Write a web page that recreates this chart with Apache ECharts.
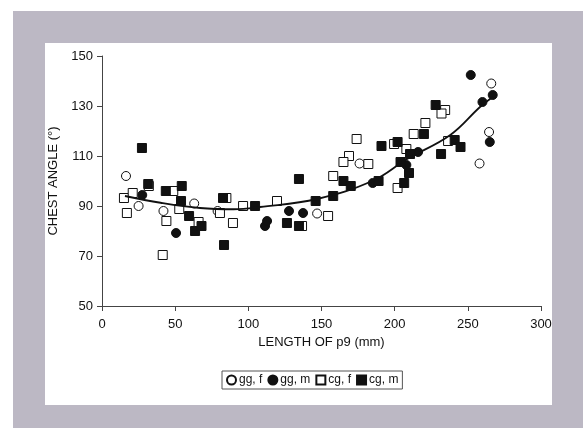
<!DOCTYPE html>
<html>
<head>
<meta charset="utf-8">
<script src="https://cdn.jsdelivr.net/npm/echarts@6/dist/echarts.min.js"></script>
<style>
  html, body { margin: 0; padding: 0; background: #fff; }
  #main { width: 583px; height: 428px; }
</style>
</head>
<body>
<div id="main"></div>
<script>
// x = length of p9 (mm), y = chest angle (deg)
var ggF = [[16.4,102],[25,90],[42,88],[63,91],[79,88],[147,87],[176,107],[258,107],[264.5,119.6],[266,139]];
var ggM = [[27.5,94.4],[50.6,79.2],[111.4,82],[112.8,84],[127.8,88],[137.4,87.2],[185,99.2],[208,106.4],[216,111.6],[252,142.4],[260,131.6],[267,134.4],[265,115.6]];
var cgF = [[15,93.2],[21,95.2],[17,87.2],[32,98],[44,84],[41.5,70.4],[48.7,96],[52.8,88.8],[66,83.6],[85,93.2],[80.6,87.2],[89.5,83.2],[96.4,90],[119.6,92],[136.7,82],[154.5,86],[158,102],[174,116.8],[168.8,110],[165,107.6],[182,106.8],[199.6,114.8],[208,112.8],[213,118.8],[221,123.2],[202,97.2],[234.5,128.4],[232,127],[236.5,116]];
var cgM = [[27.3,113.2],[31.6,98.8],[43.6,96],[54.5,98],[54,92],[59.5,86],[63.6,80],[68,82],[82.7,93.2],[83.4,74.4],[104.6,90],[134.6,100.8],[126.4,83.2],[134.6,82],[146,92],[158,94],[165,100],[170,98],[189,100],[191,114],[202,115.6],[204,107.6],[210.5,110.8],[209.8,103.2],[206.5,99.2],[220,118.8],[231.7,110.8],[228,130.4],[241,116.4],[245,113.6]];
// trend curve
var trend = [[15.7,94],[40,91.3],[67,89.2],[90,88.7],[108,89.6],[147,92.8],[185,100.1],[208.5,108.8],[238,118.4],[258.5,129.7],[267,133.6]];
var xTicks = [0, 50, 100, 150, 200, 250, 300];
var yTicks = [50, 70, 90, 110, 130, 150];

var myChart = echarts.init(document.getElementById('main'));
var font = 'Liberation Sans, Arial, sans-serif';

function scatter(name, data, symbol, open) {
  return {
    name: name,
    type: 'scatter',
    data: data,
    symbol: symbol,
    symbolSize: 9,
    itemStyle: {
      color: open ? '#fff' : '#111',
      borderColor: '#111',
      borderWidth: 1,
      opacity: 1
    },
    z: 3
  };
}

var option = {
  animation: false,
  backgroundColor: '#fff',
  graphic: [
    { type: 'rect', shape: { x: 13, y: 11, width: 570, height: 417 }, style: { fill: '#bcb8c4' }, z: -10 },
    { type: 'rect', shape: { x: 45, y: 43, width: 507, height: 362 }, style: { fill: '#fff' }, z: -9 }
  ],
  grid: { left: 102, right: 42, top: 56, bottom: 122 },
  legend: {
    left: 222,
    top: 371,
    data: ['gg, f', 'gg, m', 'cg, f', 'cg, m'],
    itemWidth: 9,
    itemHeight: 9,
    itemGap: 5,
    padding: [3, 4, 3, 4],
    borderColor: '#555',
    borderWidth: 1,
    textStyle: { fontFamily: font, fontSize: 12, color: '#111', padding: [0, 0, 0, -2] }
  },
  xAxis: {
    type: 'value',
    min: xTicks[0],
    max: xTicks[xTicks.length - 1],
    interval: 50,
    name: 'LENGTH OF p9 (mm)',
    nameLocation: 'middle',
    nameGap: 27,
    nameTextStyle: { fontFamily: font, fontSize: 13, color: '#111' },
    axisLine: { show: true, lineStyle: { color: '#444' } },
    axisTick: { show: true, inside: false, length: 5, lineStyle: { color: '#444' } },
    axisLabel: { fontFamily: font, fontSize: 13, color: '#111', margin: 12 },
    splitLine: { show: false }
  },
  yAxis: {
    type: 'value',
    min: yTicks[0],
    max: yTicks[yTicks.length - 1],
    interval: 20,
    name: 'CHEST ANGLE (°)',
    nameLocation: 'middle',
    nameGap: 36,
    nameTextStyle: { fontFamily: font, fontSize: 13, color: '#111' },
    axisLine: { show: true, lineStyle: { color: '#444' } },
    axisTick: { show: true, inside: false, length: 5, lineStyle: { color: '#444' } },
    axisLabel: { fontFamily: font, fontSize: 13, color: '#111', margin: 9 },
    splitLine: { show: false }
  },
  series: [
    scatter('gg, f', ggF, 'circle', true),
    scatter('gg, m', ggM, 'circle', false),
    scatter('cg, f', cgF, 'rect', true),
    scatter('cg, m', cgM, 'rect', false),
    {
      name: 'trend',
      type: 'line',
      data: trend,
      smooth: 0.4,
      symbol: 'none',
      lineStyle: { color: '#111', width: 1.8 },
      z: 5,
      silent: true
    }
  ]
};
myChart.setOption(option);
</script>
</body>
</html>
